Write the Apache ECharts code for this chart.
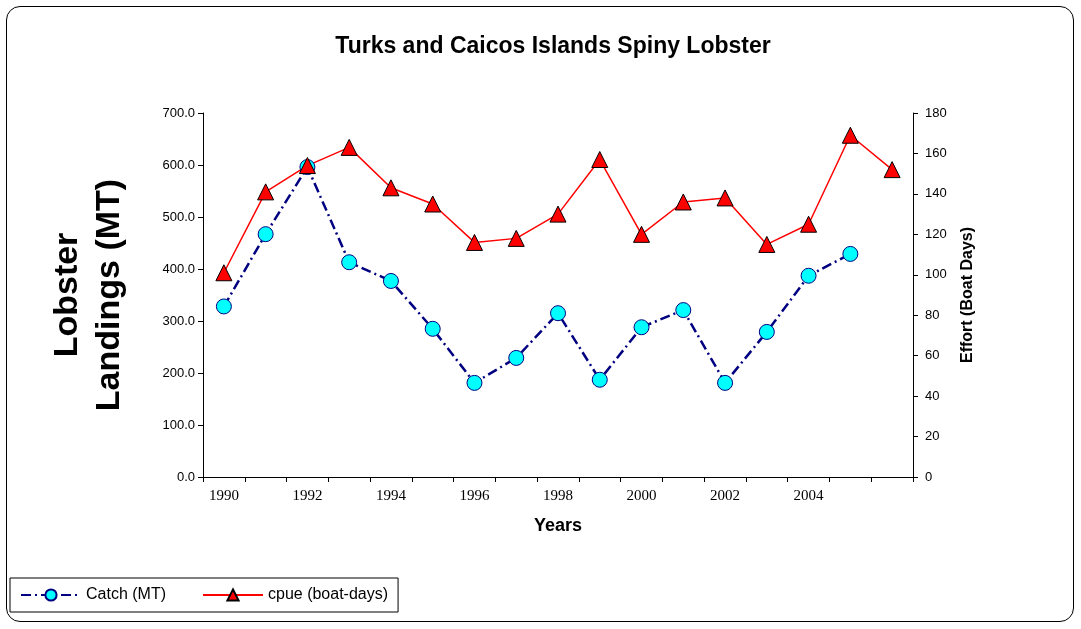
<!DOCTYPE html>
<html>
<head>
<meta charset="utf-8">
<script src="https://cdn.jsdelivr.net/npm/echarts@6/dist/echarts.min.js"></script>
<style>
  html, body { margin: 0; padding: 0; background: #fff; }
  #wrap { position: absolute; left: 6px; top: 6px; width: 1066px; height: 614px; border: 1px solid #000; border-radius: 14px; }
  #chart { position: absolute; left: 0; top: 0; width: 1081px; height: 629px; }
</style>
</head>
<body>
<div id="wrap"></div>
<div id="chart"></div>
<script>
// 年份
var years = ['1990', '1991', '1992', '1993', '1994', '1995', '1996', '1997', '1998',
  '1999', '2000', '2001', '2002', '2003', '2004', '2005', '2006'];
// 捕捞量 (MT)
var catchMT = [328, 467, 596, 413, 377, 285, 181, 229, 315, 187, 288, 321, 181, 279, 387, 429, null];
// cpue (boat-days)
var cpue = [101, 141, 154, 163, 143, 135, 116, 118, 130, 157, 120, 136, 138, 115, 125, 169, 152];

var myChart = echarts.init(document.getElementById('chart'));

var option = {
  animation: false,
  title: {
    text: 'Turks and Caicos Islands Spiny Lobster',
    left: 548,
    top: 30,
    textAlign: 'center',
    textStyle: { fontFamily: 'Liberation Sans', fontSize: 23, fontWeight: 'bold', color: '#000' }
  },
  legend: {
    left: 10,
    top: 578,
    width: 400,
    height: 36,
    padding: [9, 10],
    itemGap: 36,
    itemWidth: 60,
    itemHeight: 14,
    borderColor: '#000',
    borderWidth: 1,
    textStyle: { fontFamily: 'Liberation Sans', fontSize: 16, color: '#000' },
    data: ['Catch (MT)', 'cpue (boat-days)']
  },
  grid: { left: 203, right: 168, top: 113, bottom: 152 },
  xAxis: {
    type: 'category',
    data: years,
    boundaryGap: true,
    name: 'Years',
    nameLocation: 'middle',
    nameGap: 40,
    nameTextStyle: { fontFamily: 'Liberation Sans', fontSize: 18, fontWeight: 'bold', color: '#000' },
    axisLine: { lineStyle: { color: '#000' } },
    axisTick: { show: true, interval: 0, lineStyle: { color: '#000' } },
    axisLabel: {
      interval: 0,
      fontFamily: 'Liberation Serif',
      fontSize: 15,
      color: '#000',
      margin: 12,
      formatter: function (v, i) { return (i % 2 === 0 && i < 16) ? v : ''; }
    }
  },
  yAxis: [
    {
      type: 'value',
      min: 0, max: 700, interval: 100,
      name: 'Lobster\nLandings (MT)',
      nameLocation: 'middle',
      nameGap: 72,
      nameTextStyle: { fontFamily: 'Liberation Sans', fontSize: 34, fontWeight: 'bold', color: '#000', lineHeight: 42 },
      axisLine: { show: true, lineStyle: { color: '#000' } },
      axisTick: { show: true, lineStyle: { color: '#000' } },
      splitLine: { show: false },
      axisLabel: {
        fontFamily: 'Liberation Sans', fontSize: 13, color: '#000',
        formatter: function (v) { return v.toFixed(1); }
      }
    },
    {
      type: 'value',
      min: 0, max: 180, interval: 20,
      name: 'Effort (Boat Days)',
      nameLocation: 'middle',
      nameGap: 47,
      nameTextStyle: { fontFamily: 'Liberation Sans', fontSize: 16, fontWeight: 'bold', color: '#000' },
      axisLine: { show: true, lineStyle: { color: '#000' } },
      axisTick: { show: true, lineStyle: { color: '#000' } },
      splitLine: { show: false },
      axisLabel: { fontFamily: 'Liberation Sans', fontSize: 13, color: '#000', margin: 12 }
    }
  ],
  series: [
    {
      name: 'Catch (MT)',
      type: 'line',
      yAxisIndex: 0,
      data: catchMT,
      symbol: 'circle',
      symbolSize: 15,
      lineStyle: { color: '#000080', width: 2.5, type: [10, 4, 2, 4] },
      itemStyle: { color: '#00ffff', borderColor: '#000080', borderWidth: 1 }
    },
    {
      name: 'cpue (boat-days)',
      type: 'line',
      yAxisIndex: 1,
      data: cpue,
      symbol: 'triangle',
      symbolSize: 16,
      lineStyle: { color: '#ff0000', width: 1.5 },
      itemStyle: { color: '#ff0000', borderColor: '#000', borderWidth: 1 }
    }
  ]
};
myChart.setOption(option);
</script>
</body>
</html>
